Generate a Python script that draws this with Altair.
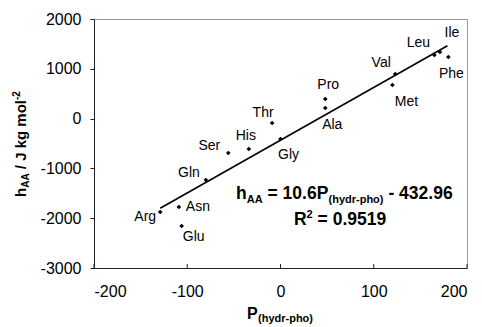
import altair as alt
import pandas as pd

# ---- data ----
amino = ["Arg", "Asn", "Glu", "Gln", "Ser", "His", "Thr", "Gly",
         "Pro", "Ala", "Val", "Met", "Leu", "Ile", "Phe"]
p_vals = [-129, -109, -106, -80, -56, -34, -9, 0,
          48, 48, 123, 120, 165, 171, 180]
h_vals = [-1876, -1775, -2157, -1233, -691, -610, -88, -410,
          394, 213, 896, 675, 1277, 1337, 1237]

fit_p = [-129, 179]
fit_h = [-1800, 1464]

x_ticks = [-200, -100, 0, 100, 200]
y_ticks = [-3000, -2000, -1000, 0, 1000, 2000]

# label placement relative to each point (pixels, label centre)
label_offset = {
    "Arg": (-15, 5), "Asn": (19, 0), "Glu": (12, 11), "Gln": (-17, -7),
    "Ser": (-19, -7), "His": (-3, -13), "Thr": (-9, -10), "Gly": (8, 16),
    "Pro": (3, -14), "Ala": (7, 17), "Val": (-14, -11), "Met": (14, 17),
    "Leu": (-16, -12), "Ile": (12, -19), "Phe": (3, 17),
}

df = pd.DataFrame({"aa": amino, "p": p_vals, "h": h_vals})
fit_df = pd.DataFrame({"p": fit_p, "h": fit_h})
tick_df = pd.DataFrame({"p": x_ticks})

FONT = "Liberation Sans"
W, H = 373, 249
xs = alt.Scale(domain=[-200, 200], nice=False, zero=False)
ys = alt.Scale(domain=[-3000, 2000], nice=False, zero=False)
lab_expr = "datum.value < 0 ? '-' + abs(datum.value) : '' + datum.value"

x_axis = alt.Axis(values=x_ticks, title=None, ticks=False, grid=False,
                  labelFont=FONT, labelFontSize=16, labelColor="black",
                  labelPadding=15, domainColor="#222", labelExpr=lab_expr)
y_axis = alt.Axis(values=y_ticks, title=None, tickSize=4, tickColor="#222",
                  grid=False, labelFont=FONT, labelFontSize=16,
                  labelColor="black", labelPadding=9, domainColor="#222",
                  labelExpr=lab_expr)

points = alt.Chart(df).mark_point(shape="diamond", filled=True, size=22,
                                  color="black", opacity=1).encode(
    x=alt.X("p:Q", scale=xs, axis=x_axis),
    y=alt.Y("h:Q", scale=ys, axis=y_axis),
)

label_layers = []
for a in amino:
    dx, dy = label_offset[a]
    label_layers.append(
        alt.Chart(df).transform_filter(alt.datum.aa == a).mark_text(
            font=FONT, fontSize=14, color="black", align="center",
            baseline="middle", dx=dx, dy=dy).encode(
            x=alt.X("p:Q", scale=xs), y=alt.Y("h:Q", scale=ys), text="aa:N")
    )

fit = alt.Chart(fit_df).mark_line(color="black", strokeWidth=1.6).encode(
    x=alt.X("p:Q", scale=xs), y=alt.Y("h:Q", scale=ys))

inner_ticks = alt.Chart(tick_df).mark_rule(color="#222").encode(
    x=alt.X("p:Q", scale=xs), y=alt.value(H), y2=alt.value(H - 4))


def txt(s, x, y, size, angle=0):
    kw = dict(font=FONT, fontSize=size, fontWeight="bold", color="black",
              align="left", baseline="alphabetic")
    if angle:
        kw["angle"] = angle
    return alt.Chart(pd.DataFrame({"t": [s]})).mark_text(**kw).encode(
        x=alt.value(x), y=alt.value(y), text="t:N")


annots = [
    # equation
    txt("h", 142, 180, 17.5),
    txt("AA", 152.7, 184, 11),
    txt("= 10.6P", 173.5, 180, 17.5),
    txt("(hydr-pho)", 234.5, 184, 11),
    txt("- 432.96", 294.4, 180, 17.5),
    txt("R", 200, 206, 17.5),
    txt("2", 212.6, 199, 11),
    txt("= 0.9519", 223.6, 206, 17.5),
    # x title
    txt("P", 153, 300, 16),
    txt("(hydr-pho)", 164, 303, 11),
    # y title (rotated)
    txt("h", -68.5, 178, 15, 270),
    txt("AA", -65, 168.8, 10, 270),
    txt("/ J kg mol", -68.5, 150.2, 15, 270),
    txt("-2", -74, 81, 10, 270),
]

chart = alt.layer(fit, inner_ticks, points, *label_layers, *annots).properties(
    width=W, height=H,
    autosize=alt.AutoSizeParams(type="none"),
    padding={"left": 86, "top": 11, "right": 7, "bottom": 56},
).configure_view(stroke="#999", strokeWidth=1)

chart.save("out.html", embed_options={"renderer": "svg", "actions": False})
